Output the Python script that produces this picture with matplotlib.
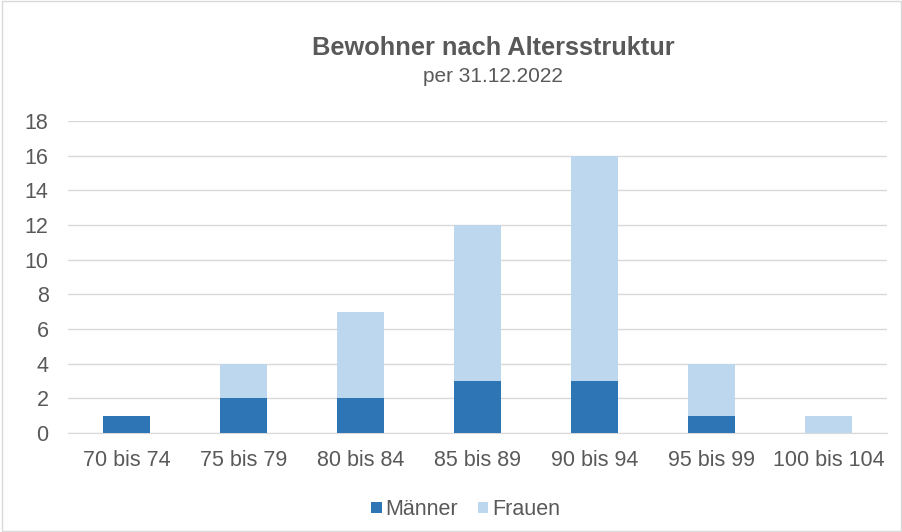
import matplotlib
matplotlib.use("Agg")
import matplotlib.pyplot as plt
from matplotlib.patches import Rectangle

categories = ["70 bis 74", "75 bis 79", "80 bis 84", "85 bis 89", "90 bis 94", "95 bis 99", "100 bis 104"]
maenner = [1, 2, 2, 3, 3, 1, 0]
frauen = [0, 2, 5, 9, 13, 3, 1]
yticks = [0, 2, 4, 6, 8, 10, 12, 14, 16, 18]

plt.rcParams['font.family'] = ['Liberation Sans', 'DejaVu Sans']
txt = '#595959'

fig = plt.figure(figsize=(9.03, 5.32), dpi=100)
fig.patches.append(Rectangle((0.002, 0.002), 0.996, 0.996, transform=fig.transFigure,
                             fill=False, edgecolor='#D9D9D9', linewidth=1))
ax = fig.add_axes([0.0753, 0.186, 0.907, 0.5866])
x = list(range(len(categories)))
ax.bar(x, maenner, width=0.4, color='#2E75B6', label='Männer', zorder=3)
ax.bar(x, frauen, width=0.4, bottom=maenner, color='#BDD7EE', label='Frauen', zorder=3)
ax.set_ylim(0, 18)
ax.set_xlim(-0.5, len(categories) - 0.5)
ax.set_yticks(yticks)
ax.set_xticks(x)
ax.set_xticklabels(categories)
ax.tick_params(axis='both', length=0, labelsize=15.5, colors=txt)
ax.tick_params(axis='x', pad=12)
ax.tick_params(axis='y', pad=14)
ax.grid(axis='y', color='#D9D9D9', linewidth=1, zorder=0)
for s in ['top', 'right', 'left']:
    ax.spines[s].set_visible(False)
ax.spines['bottom'].set_color('#D9D9D9')

fig.text(0.546, 0.909, 'Bewohner nach Altersstruktur', ha='center', va='center',
         fontsize=18.3, fontweight='bold', color=txt)
fig.text(0.546, 0.857, 'per 31.12.2022', ha='center', va='center', fontsize=15, color=txt)

fig.legend(loc='center', bbox_to_anchor=(0.516, 0.042), ncol=2, frameon=False,
           fontsize=15.5, labelcolor=txt, handlelength=0.47, handleheight=0.47,
           handletextpad=0.19, columnspacing=0.93)

fig.savefig('out.png', dpi=100)
